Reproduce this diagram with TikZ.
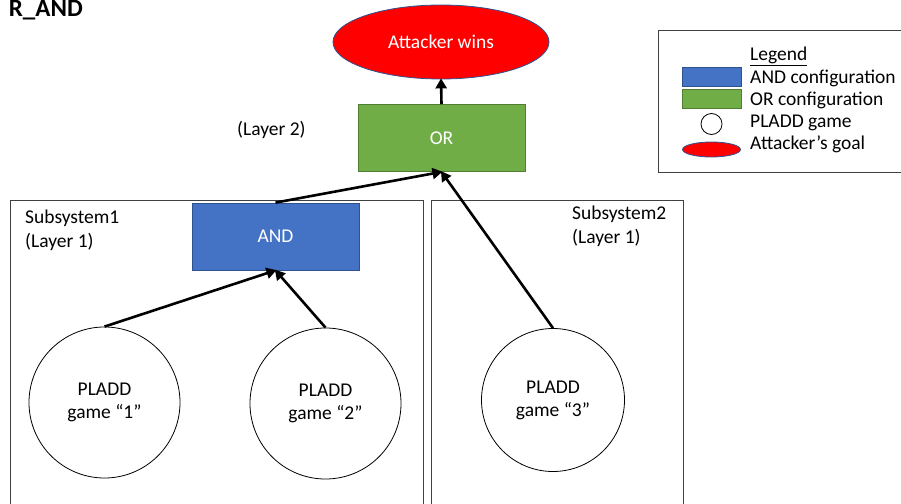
\documentclass[tikz,border=0pt]{standalone}
\usepackage{fontspec}
\setmainfont{Carlito}
\usetikzlibrary{arrows.meta,shapes.geometric}

\definecolor{andblue}{HTML}{4472C4}
\definecolor{andedge}{HTML}{2F528F}
\definecolor{orgreen}{HTML}{70AD47}
\definecolor{oredge}{HTML}{507E32}
\definecolor{goalred}{HTML}{FF0000}
\definecolor{frame}{HTML}{404040}

\tikzset{
  txt/.style={font=\fontsize{19.5}{24}\selectfont, inner sep=0pt},
  gatebox/.style={draw, line width=0.8pt, minimum width=167pt, minimum height=67pt,
    text=white, font=\fontsize{19.5}{24}\selectfont},
  andgate/.style={gatebox, fill=andblue, draw=andedge},
  orgate/.style={gatebox, fill=orgreen, draw=oredge},
  goal/.style={ellipse, draw=andedge, fill=goalred, line width=0.8pt, text=white,
    minimum width=216pt, minimum height=74pt, inner sep=0pt,
    font=\fontsize{19.5}{24}\selectfont},
  game/.style={circle, draw=black, line width=0.8pt, align=center, inner sep=0pt,
    font=\fontsize{19.5}{23}\selectfont},
  link/.style={line width=2.6pt, draw=black,
    -{Triangle[length=10pt,width=11pt]}, shorten >=-1pt},
  subsys/.style={draw=frame, line width=0.9pt},
}

\begin{document}
\begin{tikzpicture}[x=1pt, y=-1pt]
\useasboundingbox (0,0) rectangle (901,503);

% title
\node[anchor=base east, inner sep=0pt, font=\fontsize{25}{28}\bfseries\selectfont] (title) at (83,17) {R\_AND};

% subsystem frames
\draw[subsys] (10,200) -- (423,200) -- (423,510);
\draw[subsys] (10,200) -- (10,510);
\draw[subsys] (431,510) -- (431,200) -- (683,200) -- (683,510);
\node[txt, anchor=base west, align=left] (s1a) at (25,223) {Subsystem1};
\node[txt, anchor=base west, align=left] (s1b) at (25,247) {(Layer 1)};
\node[txt, anchor=base west, align=left] (s2a) at (572,219) {Subsystem2};
\node[txt, anchor=base west, align=left] (s2b) at (572,243) {(Layer 1)};

% gates and goal
\node[goal] (win) at (441,42) {Attacker wins};
\node[orgate] (or) at (441.5,138) {OR};
\node[txt, anchor=base west] (l2) at (237,135) {(Layer 2)};
\node[andgate] (and) at (275.5,236.5) {AND};

% PLADD games
\node[game, minimum size=151pt] (g1) at (104.5,402.5) {PLADD\\game “1”};
\node[game, minimum size=151pt] (g2) at (325.5,403.5) {PLADD\\game “2”};
\node[game, minimum size=143pt] (g3) at (553,400) {PLADD\\game “3”};

% connectors
\draw[link] (g1.north) -- (and.south);
\draw[link] (g2.north) -- (and.south);
\draw[link] (and.north) -- (or.south);
\draw[link] (g3.north) -- (or.south);
\draw[link] (or.north) -- (win.south);

% legend
\draw[draw=frame, line width=0.9pt] (905,30) -- (658,30) -- (658,172) -- (905,172);
\node[txt, anchor=base west] (lt) at (750,60) {\underline{Legend}};
\node[draw=andedge, fill=andblue, line width=0.8pt, minimum width=59pt, minimum height=19pt, inner sep=0pt] (lk1) at (711.5,76.5) {};
\node[draw=oredge, fill=orgreen, line width=0.8pt, minimum width=59pt, minimum height=19pt, inner sep=0pt] (lk2) at (711.5,98.5) {};
\node[circle, draw=black, line width=0.8pt, minimum size=21pt, inner sep=0pt] (lk3) at (711.5,124) {};
\node[ellipse, draw=andedge, fill=goalred, line width=0.8pt, minimum width=58pt, minimum height=15pt, inner sep=0pt] (lk4) at (711.5,149.5) {};
\node[txt, anchor=base west] (lt1) at (750,83) {AND configuration};
\node[txt, anchor=base west] (lt2) at (750,105) {OR configuration};
\node[txt, anchor=base west] (lt3) at (750,127) {PLADD game};
\node[txt, anchor=base west] (lt4) at (750,149) {Attacker’s goal};
\end{tikzpicture}
\end{document}
